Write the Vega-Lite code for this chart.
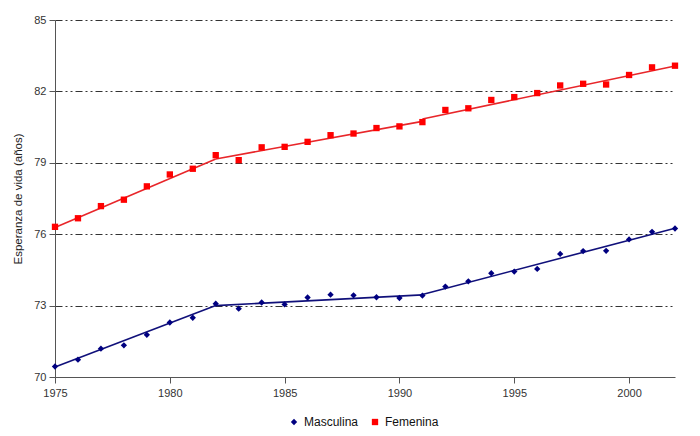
{
  "$schema": "https://vega.github.io/schema/vega-lite/v6.json",
  "autosize": "none",
  "width": 620,
  "height": 357,
  "padding": {"left": 55, "top": 20, "right": 25, "bottom": 59},
  "background": "white",
  "config": {
    "font": "Liberation Sans",
    "view": {"stroke": null},
    "axis": {
      "labelFont": "Liberation Sans",
      "labelFontSize": 11,
      "labelColor": "#333333",
      "titleFont": "Liberation Sans",
      "titleFontSize": 11.5,
      "titleFontWeight": "normal",
      "titleColor": "#222222",
      "domainColor": "#555555",
      "tickColor": "#555555",
      "tickSize": 6
    },
    "legend": {
      "orient": "none",
      "direction": "horizontal",
      "legendX": 233,
      "legendY": 396,
      "labelFont": "Liberation Sans",
      "labelFontSize": 12,
      "labelColor": "#111111",
      "symbolSize": 40,
      "columnPadding": 10,
      "labelOffset": 4
    }
  },
  "datasets": {
    "obs": [
      {"anio": 1975, "sexo": "Femenina", "valor": 76.31},
      {"anio": 1976, "sexo": "Femenina", "valor": 76.67},
      {"anio": 1977, "sexo": "Femenina", "valor": 77.18},
      {"anio": 1978, "sexo": "Femenina", "valor": 77.45},
      {"anio": 1979, "sexo": "Femenina", "valor": 78.01},
      {"anio": 1980, "sexo": "Femenina", "valor": 78.51},
      {"anio": 1981, "sexo": "Femenina", "valor": 78.75},
      {"anio": 1982, "sexo": "Femenina", "valor": 79.32},
      {"anio": 1983, "sexo": "Femenina", "valor": 79.11},
      {"anio": 1984, "sexo": "Femenina", "valor": 79.65},
      {"anio": 1985, "sexo": "Femenina", "valor": 79.67},
      {"anio": 1986, "sexo": "Femenina", "valor": 79.88},
      {"anio": 1987, "sexo": "Femenina", "valor": 80.16},
      {"anio": 1988, "sexo": "Femenina", "valor": 80.23},
      {"anio": 1989, "sexo": "Femenina", "valor": 80.46},
      {"anio": 1990, "sexo": "Femenina", "valor": 80.53},
      {"anio": 1991, "sexo": "Femenina", "valor": 80.71},
      {"anio": 1992, "sexo": "Femenina", "valor": 81.22},
      {"anio": 1993, "sexo": "Femenina", "valor": 81.29},
      {"anio": 1994, "sexo": "Femenina", "valor": 81.64},
      {"anio": 1995, "sexo": "Femenina", "valor": 81.76},
      {"anio": 1996, "sexo": "Femenina", "valor": 81.93},
      {"anio": 1997, "sexo": "Femenina", "valor": 82.25},
      {"anio": 1998, "sexo": "Femenina", "valor": 82.32},
      {"anio": 1999, "sexo": "Femenina", "valor": 82.29},
      {"anio": 2000, "sexo": "Femenina", "valor": 82.69},
      {"anio": 2001, "sexo": "Femenina", "valor": 83.01},
      {"anio": 2002, "sexo": "Femenina", "valor": 83.08},
      {"anio": 1975, "sexo": "Masculina", "valor": 70.44},
      {"anio": 1976, "sexo": "Masculina", "valor": 70.73},
      {"anio": 1977, "sexo": "Masculina", "valor": 71.19},
      {"anio": 1978, "sexo": "Masculina", "valor": 71.33},
      {"anio": 1979, "sexo": "Masculina", "valor": 71.77},
      {"anio": 1980, "sexo": "Masculina", "valor": 72.29},
      {"anio": 1981, "sexo": "Masculina", "valor": 72.49},
      {"anio": 1982, "sexo": "Masculina", "valor": 73.08},
      {"anio": 1983, "sexo": "Masculina", "valor": 72.87},
      {"anio": 1984, "sexo": "Masculina", "valor": 73.13},
      {"anio": 1985, "sexo": "Masculina", "valor": 73.05},
      {"anio": 1986, "sexo": "Masculina", "valor": 73.34},
      {"anio": 1987, "sexo": "Masculina", "valor": 73.46},
      {"anio": 1988, "sexo": "Masculina", "valor": 73.43},
      {"anio": 1989, "sexo": "Masculina", "valor": 73.35},
      {"anio": 1990, "sexo": "Masculina", "valor": 73.32},
      {"anio": 1991, "sexo": "Masculina", "valor": 73.42},
      {"anio": 1992, "sexo": "Masculina", "valor": 73.80},
      {"anio": 1993, "sexo": "Masculina", "valor": 74.02},
      {"anio": 1994, "sexo": "Masculina", "valor": 74.36},
      {"anio": 1995, "sexo": "Masculina", "valor": 74.43},
      {"anio": 1996, "sexo": "Masculina", "valor": 74.54},
      {"anio": 1997, "sexo": "Masculina", "valor": 75.17},
      {"anio": 1998, "sexo": "Masculina", "valor": 75.29},
      {"anio": 1999, "sexo": "Masculina", "valor": 75.30},
      {"anio": 2000, "sexo": "Masculina", "valor": 75.78},
      {"anio": 2001, "sexo": "Masculina", "valor": 76.10},
      {"anio": 2002, "sexo": "Masculina", "valor": 76.24}
    ],
    "ajuste": [
      {"anio": 1975, "grupo": "ajuste F", "tramo": "F1", "valor": 76.28},
      {"anio": 1982, "grupo": "ajuste F", "tramo": "F1", "valor": 79.16},
      {"anio": 1982, "grupo": "ajuste F", "tramo": "F2", "valor": 79.16},
      {"anio": 1991, "grupo": "ajuste F", "tramo": "F2", "valor": 80.74},
      {"anio": 1991, "grupo": "ajuste F", "tramo": "F3", "valor": 80.84},
      {"anio": 2002, "grupo": "ajuste F", "tramo": "F3", "valor": 83.07},
      {"anio": 1975, "grupo": "ajuste M", "tramo": "M1", "valor": 70.42},
      {"anio": 1982, "grupo": "ajuste M", "tramo": "M1", "valor": 73.0},
      {"anio": 1982, "grupo": "ajuste M", "tramo": "M2", "valor": 73.0},
      {"anio": 1991, "grupo": "ajuste M", "tramo": "M2", "valor": 73.45},
      {"anio": 1991, "grupo": "ajuste M", "tramo": "M3", "valor": 73.47},
      {"anio": 2002, "grupo": "ajuste M", "tramo": "M3", "valor": 76.25}
    ]
  },
  "encoding": {
    "x": {
      "field": "anio",
      "type": "quantitative",
      "title": null,
      "scale": {"domain": [1975, 2002], "nice": false, "zero": false},
      "axis": {"values": [1975, 1980, 1985, 1990, 1995, 2000], "format": "d", "grid": false, "labelPadding": 4, "labelFlush": false}
    },
    "y": {
      "field": "valor",
      "type": "quantitative",
      "title": "Esperanza de vida (años)",
      "scale": {"domain": [70, 85], "nice": false, "zero": false},
      "axis": {
        "values": [70, 73, 76, 79, 82, 85],
        "grid": true,
        "gridColor": "#333333",
        "gridDash": [7, 3, 2, 3, 2, 3],
        "gridWidth": 1,
        "labelPadding": 3,
        "titlePadding": 10
      }
    }
  },
  "layer": [
    {
      "data": {"name": "ajuste"},
      "mark": {"type": "line", "strokeWidth": 1.6},
      "encoding": {
        "detail": {"field": "tramo"},
        "stroke": {
          "field": "grupo",
          "type": "nominal",
          "legend": null,
          "scale": {"domain": ["ajuste M", "ajuste F"], "range": ["#10107a", "#e8262a"]}
        }
      }
    },
    {
      "data": {"name": "obs"},
      "mark": {"type": "point", "filled": true, "opacity": 1, "size": 40},
      "encoding": {
        "color": {
          "field": "sexo",
          "type": "nominal",
          "title": null,
          "scale": {"domain": ["Masculina", "Femenina"], "range": ["#000080", "#ff0000"]}
        },
        "shape": {
          "field": "sexo",
          "type": "nominal",
          "title": null,
          "scale": {"domain": ["Masculina", "Femenina"], "range": ["diamond", "square"]}
        }
      }
    }
  ]
}
